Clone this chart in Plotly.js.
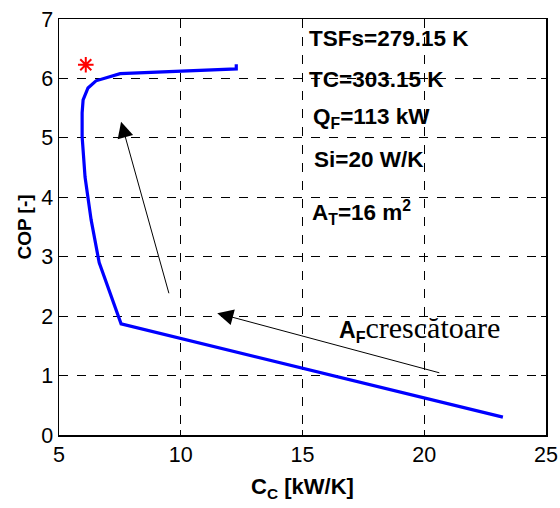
<!DOCTYPE html>
<html>
<head>
<meta charset="utf-8">
<script src="https://cdn.plot.ly/plotly-3.0.1.min.js"></script>
<style>html,body{margin:0;padding:0;background:#fff;}#chart{width:560px;height:508px;}</style>
</head>
<body>
<div id="chart"></div>
<script>
// Curve: heat-pump COP versus condenser heat capacity rate C_C (A_F increasing along the curve)
var cc  = [23.23, 7.55, 6.65, 6.32, 6.07, 5.95, 5.95, 5.99, 6.19, 6.52, 7.51, 12.28, 12.28];
var cop = [0.30, 1.87, 2.90, 3.62, 4.34, 5.02, 5.42, 5.64, 5.84, 5.96, 6.08, 6.16, 6.24];

// Optimum point marker
var optCC  = [6.1];
var optCOP = [6.23];

// Axis ticks
var xTicks = [5, 10, 15, 20, 25];
var yTicks = [0, 1, 2, 3, 4, 5, 6, 7];

// Parameter labels
var paramLabels = ["<b>TSFs=279.15 K</b>", "<b>TC=303.15 K</b>", "<b>Q<sub>F</sub>=113 kW</b>", "<b>Si=20 W/K</b>", "<b>A<sub>T</sub>=16 m<sup>2</sup></b>"];
var paramX = [15.2, 15.2, 15.35, 15.4, 15.3];
var paramY = [6.68, 5.98, 5.33, 4.63, 3.74];

// Arrows (tail -> head)
var arrowTailX = [9.53, 20.68];
var arrowTailY = [2.36, 1.04];
var arrowHeadX = [7.55, 11.5];
var arrowHeadY = [5.27, 2.05];

var traces = [
  {x: cc, y: cop, type: 'scatter', mode: 'lines', line: {color: '#0000ff', width: 3.2}, hoverinfo: 'skip', showlegend: false},
  {x: optCC, y: optCOP, type: 'scatter', mode: 'markers', marker: {symbol: 'asterisk-open', size: 13, color: '#ff0000', line: {color: '#ff0000', width: 2}}, showlegend: false}
];

var annotations = [];
for (var i = 0; i < paramLabels.length; i++) {
  annotations.push({x: paramX[i], y: paramY[i], xref: 'x', yref: 'y', text: paramLabels[i], showarrow: false, xanchor: 'left', yanchor: 'middle', font: {family: 'Liberation Sans, Arial, sans-serif', size: 22.5, color: '#000'}});
}
for (var j = 0; j < arrowTailX.length; j++) {
  annotations.push({x: arrowHeadX[j], y: arrowHeadY[j], ax: arrowTailX[j], ay: arrowTailY[j], xref: 'x', yref: 'y', axref: 'x', ayref: 'y', text: '', showarrow: true, arrowhead: 2, arrowsize: 3.2, arrowwidth: 1, arrowcolor: '#000'});
}
annotations.push({x: 16.4, y: 1.80, xref: 'x', yref: 'y', xanchor: 'left', yanchor: 'middle', showarrow: false,
  text: '<b>A<sub>F</sub></b><span style="font-family:Liberation Serif, Times New Roman, serif;font-size:30px;font-weight:normal">crescătoare</span>',
  font: {family: 'Liberation Sans, Arial, sans-serif', size: 23, color: '#000'}});

var layout = {
  width: 560, height: 508,
  margin: {l: 59, r: 14, t: 19, b: 73},
  paper_bgcolor: '#fff', plot_bgcolor: '#fff',
  font: {family: 'Liberation Sans, Arial, sans-serif', size: 21.5, color: '#000'},
  xaxis: {range: [5, 25], tickvals: xTicks, ticktext: xTicks.map(String), showline: true, mirror: 'ticks', linecolor: '#000', linewidth: 1.5,
          ticks: 'inside', ticklen: 5, tickcolor: '#000', showgrid: true, gridcolor: '#000', griddash: 'dash', gridwidth: 1, zeroline: false,
          title: {text: '<b>C<sub>C</sub> [kW/K]</b>', font: {size: 22}, standoff: 12}},
  yaxis: {range: [0, 7], tickvals: yTicks, ticktext: yTicks.map(String), showline: true, mirror: 'ticks', linecolor: '#000', linewidth: 1.5,
          ticks: 'inside', ticklen: 5, tickcolor: '#000', showgrid: true, gridcolor: '#000', griddash: 'dash', gridwidth: 1, zeroline: false,
          title: {text: '<b>COP [-]</b>', font: {size: 19}, standoff: 4}},
  annotations: annotations
};

Plotly.newPlot('chart', traces, layout, {staticPlot: true, displayModeBar: false});
</script>
</body>
</html>
